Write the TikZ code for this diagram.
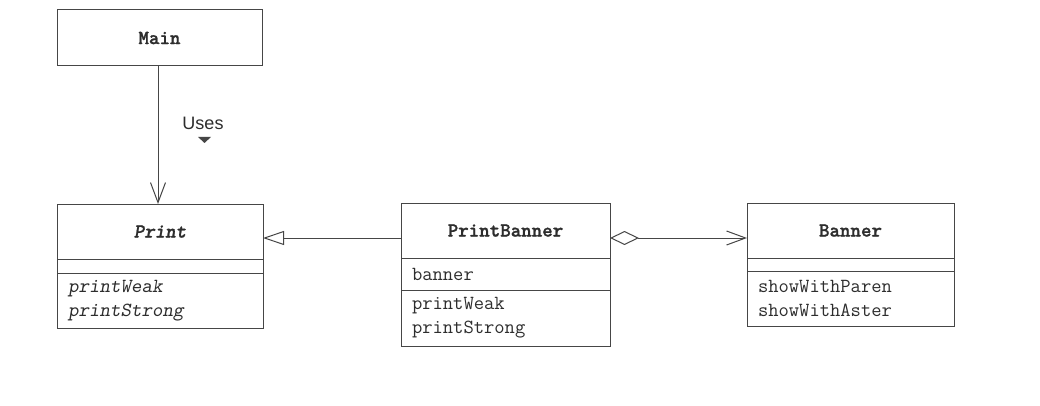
\documentclass[tikz,border=0pt]{standalone}
\usepackage{fontspec}
\setsansfont{Liberation Sans}
\newfontfamily\titlefont{lmmonolt10-bold.otf}[FakeBold=1.2]
\newfontfamily\titleitfont{lmmonolt10-boldoblique.otf}[FakeBold=1.2]
\newfontfamily\slfont{lmmonoslant10-regular.otf}
\usetikzlibrary{arrows.meta,calc}
\definecolor{linec}{RGB}{70,70,70}
\definecolor{textc}{RGB}{45,45,45}
\tikzset{
  cls/.style={draw=linec, line width=1pt, inner sep=0pt, outer sep=0pt, text=textc,
    font=\ttfamily\fontsize{20}{24}\selectfont},
  hdr/.style={cls, minimum height=55},
  cmpt/.style={cls, anchor=north, align=left, inner xsep=11pt, inner ysep=0pt},
  conn/.style={draw=linec, line width=1pt},
}
\begin{document}
\begin{tikzpicture}[x=1pt,y=-1pt]
\useasboundingbox[fill=white] (0,0) rectangle (1040,406);

% Main
\node[hdr, minimum width=205, minimum height=56] (main) at (159.5,38) {\titlefont Main};

% Print
\node[hdr, minimum width=206] (printh) at (160,231.5) {\titleitfont Print};
\node[cmpt, minimum width=206, minimum height=14] (printa) at (printh.south) {};
\node[cmpt, text width=184, minimum height=55] (printm) at (printa.south) {\slfont printWeak\\\slfont printStrong};

% PrintBanner
\node[hdr, minimum width=209] (pbh) at (505.5,230.5) {\titlefont PrintBanner};
\node[cmpt, text width=187, minimum height=32] (pba) at (pbh.south) {banner};
\node[cmpt, text width=187, minimum height=56] (pbm) at (pba.south) {printWeak\\printStrong};

% Banner
\node[hdr, minimum width=207] (bh) at (850.5,230.5) {\titlefont Banner};
\node[cmpt, minimum width=207, minimum height=13] (ba) at (bh.south) {};
\node[cmpt, text width=185, minimum height=55] (bm) at (ba.south) {showWithParen\\showWithAster};

% Uses label
\node[text=textc, font=\sffamily\fontsize{18}{20}\selectfont, inner sep=0pt] (uses) at (203,123) {Uses};
\fill[linec] ($(uses.south)+(-5,7.5)$) -- ($(uses.south)+(8,7.5)$) -- ($(uses.south)+(1.5,13.5)$) -- cycle;

% Connectors
\draw[conn, -{Straight Barb[length=20pt,width=15pt]}] (main.south -| 158,0) -- (printh.north -| 158,0);
\draw[conn, -{Triangle[open,length=21pt,width=14pt,fill=white]}] ($(pbh.west)+(0,7.5)$) -- ($(printh.east)+(0,6.5)$);
\draw[conn, {Diamond[open,length=29pt,width=14pt,fill=white]}-{Straight Barb[length=19pt,width=14pt]}] ($(pbh.east)+(0,7.5)$) -- ($(bh.west)+(0,7.5)$);
\end{tikzpicture}
\end{document}
